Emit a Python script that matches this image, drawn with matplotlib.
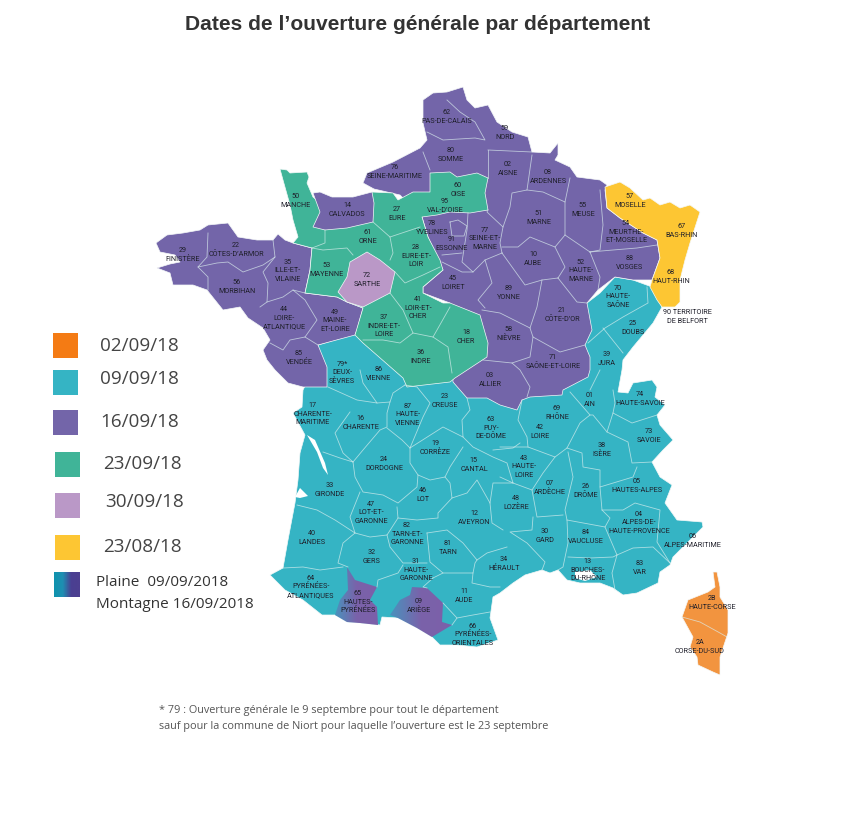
import matplotlib
matplotlib.use('Agg')
import matplotlib.pyplot as plt
from matplotlib.colors import LinearSegmentedColormap
from matplotlib.patches import Polygon
import numpy as np

# couleurs des dates d'ouverture
orange = '#f2943f'
teal = '#35b4c4'
purple = '#7365a9'
green = '#40b498'
mauve = '#ba98c7'
yellow = '#fdc633'

legend_dates = ['02/09/18', '09/09/18', '16/09/18', '23/09/18', '30/09/18', '23/08/18']
legend_colors = ['#f47b14', teal, purple, green, mauve, yellow]
legend_lefts = [53, 53, 53, 55, 55, 55]
legend_tops = [333, 370, 410, 452, 493, 535]
legend_text_x = [100, 100, 100, 103, 105, 103]
legend_text_y = [346, 379, 422, 464, 502, 547]

# contours des zones (coordonnees)
zone_teal = [(303,390),(318,360),(318,345),(358,333),(450,340),(587,303),(600,293),(615,277),(633,280),(652,287),
    (662,307),(653,323),(633,347),(623,360),(622,370),(618,392),(628,393),(633,383),(652,380),(657,387),(655,397),
    (665,405),(657,415),(660,425),(673,440),(663,450),(652,462),(660,477),(672,485),(665,503),(677,520),(702,522),
    (703,527),(690,540),(673,557),(670,565),(660,572),(658,583),(637,593),(623,595),(613,588),(600,583),(580,583),
    (567,580),(558,570),(550,573),(542,570),(525,575),(513,583),(500,593),(493,597),(490,618),(498,640),(477,647),
    (457,645),(440,645),(432,637),(417,628),(398,618),(382,617),(380,625),(360,623),(347,622),(335,615),(322,615),
    (303,600),(285,590),(273,578),(270,575),(283,568),(288,540),(295,503),(298,480),(300,453),(305,435),(293,413),
    (302,407)]
zone_purple_west = [(156,243),(167,235),(183,233),(200,230),(208,225),(228,223),(238,237),(257,240),(273,240),
    (278,234),(285,240),(293,243),(312,248),(310,270),(305,293),(337,297),(347,302),(363,308),(357,330),(355,335),
    (318,345),(327,367),(327,387),(303,387),(288,383),(275,370),(267,360),(263,350),(270,340),(263,328),(248,318),
    (240,307),(223,310),(215,300),(207,290),(193,285),(173,285),(170,273),(157,268),(170,264),(180,262),(175,255),
    (160,252)]
zone_purple_north = [(363,183),(367,173),(393,162),(420,148),(427,140),(423,123),(423,100),(433,93),(447,92),(463,87),
    (467,100),(475,108),(488,105),(497,122),(512,132),(528,137),(532,152),(550,153),(558,143),(558,155),(555,160),
    (570,167),(577,177),(600,180),(607,185),(605,190),(607,208),(620,218),(643,233),(657,240),(660,258),(652,280),
    (633,280),(615,277),(598,290),(587,303),(592,330),(585,345),(590,357),(590,370),(588,377),(563,390),(562,395),
    (530,397),(522,400),(517,410),(500,405),(487,398),(467,398),(453,382),(450,303),(423,293),(423,287),(443,270),
    (428,237),(422,217),(400,195),(374,189)]
zone_green = [(280,169),(287,170),(290,173),(307,172),(309,177),(307,183),(313,197),(325,207),(365,207),(372,192),
    (393,193),(398,200),(413,192),(430,192),(430,173),(450,172),(457,177),(477,173),(488,178),(485,193),(488,210),
    (470,213),(450,212),(437,215),(422,217),(428,237),(440,260),(443,270),(423,287),(423,293),(443,303),(450,303),
    (480,315),(488,343),(487,357),(455,378),(450,382),(407,387),(403,378),(363,343),(355,335),(363,308),(347,302),
    (337,297),(305,293),(310,270),(312,248),(293,243),(298,237),(293,220),(290,205),(283,180)]
zone_calvados = [(313,193),(320,192),(332,197),(353,197),(372,192),(374,203),(373,222),(347,228),(325,230),(313,227),(320,212)]
zone_sarthe = [(367,252),(380,260),(395,272),(390,293),(363,307),(347,302),(338,292),(347,277),(350,262)]
zone_yellow = [(605,187),(620,182),(630,188),(643,200),(650,198),(660,205),(670,202),(680,208),(690,205),(700,212),
    (690,243),(685,260),(680,280),(680,302),(675,307),(662,307),(657,300),(650,287),(652,280),(660,258),(657,240),
    (643,233),(620,218),(607,208)]
zone_hp = [(347,567),(355,580),(377,587),(370,600),(377,607),(378,625),(360,623),(347,622),(335,615),(340,600),(348,590)]
zone_ariege = [(412,587),(427,588),(443,603),(442,622),(452,625),(432,637),(417,628),(398,618),(390,615),(400,600),(410,595)]
zone_corse = [(713,572),(717,572),(720,587),(720,597),(728,610),(728,633),(720,657),(720,675),(713,672),(698,665),
    (697,657),(690,647),(693,637),(682,617),(688,600),(708,592),(715,587)]
water = [
    [(307,435),(315,440),(325,463),(328,475),(323,468),(317,452)],
    [(295,497),(300,488),(308,496),(300,498)],
    [(575,572),(590,570),(597,577),(585,581),(575,578)],
]

# limites de departements
borders = [
    [(208,233),(207,257),(198,267),(208,277),(208,290)],
    [(198,267),(217,263),(228,262),(243,272),(263,265),(275,257),(273,240)],
    [(275,257),(263,272),(268,283),(267,302),(260,307)],
    [(267,302),(283,297),(293,290),(305,293)],
    [(293,290),(305,300),(317,320),(305,337),(290,340),(283,350),(270,343)],
    [(305,337),(318,345)],
    [(312,248),(323,250),(347,248),(353,255)],
    [(325,230),(325,243),(312,248)],
    [(373,222),(390,237),(393,253),(390,260)],
    [(390,237),(420,227)],
    [(395,272),(405,283),(423,275),(440,267)],
    [(390,293),(403,310),(413,333),(400,343),(383,340),(363,340)],
    [(413,333),(433,337),(448,347),(452,373)],
    [(433,337),(437,330),(450,307)],
    [(447,100),(460,112),(475,122),(485,140),(475,138),(443,140),(427,132)],
    [(423,152),(430,170)],
    [(488,150),(488,178)],
    [(488,150),(532,152)],
    [(532,155),(527,190),(512,193),(510,207),(503,227),(487,212),(488,210)],
    [(468,213),(467,230),(462,262),(473,272),(485,260),(502,253)],
    [(503,227),(500,243),(502,253)],
    [(502,247),(518,247),(530,237),(545,243),(555,247),(565,235)],
    [(527,190),(543,192),(565,202),(570,178)],
    [(565,202),(565,235),(590,252)],
    [(600,190),(603,225),(600,250),(590,252)],
    [(590,252),(613,250),(637,248),(657,245)],
    [(590,252),(600,277),(598,290)],
    [(555,247),(565,267),(558,278)],
    [(502,253),(525,285),(542,280),(558,278)],
    [(558,278),(577,302),(587,303)],
    [(485,260),(492,283),(478,300),(485,308)],
    [(442,262),(462,272),(473,272)],
    [(442,255),(462,253)],
    [(450,222),(458,220),(467,226),(464,236),(452,236),(450,222)],
    [(482,310),(500,313),(530,328)],
    [(542,280),(537,307),(530,328),(533,337),(560,352),(585,345)],
    [(533,337),(530,357),(512,363),(483,360)],
    [(512,363),(520,370),(530,387),(527,397)],
    [(647,287),(648,303),(623,317),(605,328),(588,343)],
    [(603,328),(623,353)],
    [(328,387),(357,400),(377,403),(390,402),(393,393),(405,385)],
    [(360,370),(363,383),(377,403)],
    [(350,412),(335,433),(343,453),(353,462)],
    [(323,452),(340,458),(353,462),(363,450),(380,430),(387,427),(387,413),(390,402)],
    [(405,385),(417,387),(430,403),(423,417),(410,448)],
    [(387,428),(402,440),(410,448),(443,427),(463,437)],
    [(467,398),(470,410),(462,420),(463,437),(473,447),(493,457),(507,463),(513,483)],
    [(493,450),(513,448),(520,443)],
    [(463,447),(450,467),(445,477),(430,480),(418,475),(410,463),(410,448)],
    [(418,475),(417,487),(398,503),(383,495),(363,492),(355,477),(353,462)],
    [(360,492),(350,517),(355,533),(335,520),(317,510),(297,505)],
    [(355,533),(343,543),(338,563),(348,567)],
    [(283,568),(303,567),(320,570),(343,567)],
    [(355,533),(370,537),(387,535),(398,518),(397,507)],
    [(398,518),(417,520),(438,518),(438,513),(452,498),(450,483),(445,477)],
    [(452,498),(467,493),(477,480),(490,503),(492,523),(503,530)],
    [(490,503),(493,483),(513,483)],
    [(427,533),(447,530),(463,543),(477,560),(487,553),(507,547)],
    [(427,533),(430,562),(443,573),(433,578)],
    [(387,535),(390,547),(403,563),(427,563)],
    [(403,565),(398,573),(378,580),(377,587)],
    [(433,578),(423,587),(427,588)],
    [(443,573),(473,573),(475,563),(477,560)],
    [(473,573),(472,583),(490,587),(500,587)],
    [(457,618),(473,615),(490,612)],
    [(443,603),(457,618),(452,625)],
    [(522,400),(518,420),(527,437),(528,447)],
    [(500,447),(528,447),(555,457),(567,448),(580,423),(590,415),(570,392)],
    [(590,415),(593,415),(607,432),(613,413),(615,403),(613,390)],
    [(590,390),(600,370)],
    [(613,413),(632,423),(657,415)],
    [(607,432),(628,442),(632,463),(652,462)],
    [(567,448),(582,453),(583,467),(600,470),(600,487),(633,477),(637,467)],
    [(568,452),(573,477),(565,510),(567,520),(568,543),(563,567),(558,570)],
    [(555,457),(543,473),(532,490),(537,517),(563,515)],
    [(533,517),(532,530),(510,532),(527,543),(545,562),(542,570)],
    [(532,490),(513,483),(500,477)],
    [(567,520),(605,527),(610,518),(602,510),(600,487)],
    [(568,557),(590,558),(613,557),(617,555)],
    [(605,527),(617,555),(612,573),(615,590)],
    [(617,555),(633,548),(653,547),(670,563)],
    [(602,510),(623,510),(635,503),(660,510),(657,542),(670,563)],
    [(682,617),(700,622),(720,633),(727,637)],
]

# etiquettes des departements
dept_labels = ['62\nPAS-DE-CALAIS', '59\nNORD', '80\nSOMME', '02\nAISNE', '08\nARDENNES', '76\nSEINE-MARITIME',
    '60\nOISE', '95\nVAL-D\u2019OISE', '50\nMANCHE', '14\nCALVADOS', '27\nEURE', '78\nYVELINES', '91\nESSONNE',
    '77\nSEINE-ET-\nMARNE', '61\nORNE', '28\nEURE-ET-\nLOIR', '22\nC\u00d4TES-D\u2019ARMOR', '29\nFINIST\u00c8RE',
    '35\nILLE-ET-\nVILAINE', '53\nMAYENNE', '56\nMORBIHAN', '72\nSARTHE', '44\nLOIRE-\nATLANTIQUE',
    '49\nMAINE-\nET-LOIRE', '37\nINDRE-ET-\nLOIRE', '41\nLOIR-ET-\nCHER', '36\nINDRE', '18\nCHER', '45\nLOIRET',
    '89\nYONNE', '10\nAUBE', '51\nMARNE', '55\nMEUSE', '52\nHAUTE-\nMARNE', '57\nMOSELLE', '54\nMEURTHE-\nET-MOSELLE',
    '88\nVOSGES', '67\nBAS-RHIN', '68\nHAUT-RHIN', '70\nHAUTE-\nSA\u00d4NE', '90 TERRITOIRE\nDE BELFORT', '25\nDOUBS',
    '21\nC\u00d4TE-D\u2019OR', '58\nNI\u00c8VRE', '71\nSA\u00d4NE-ET-LOIRE', '39\nJURA', '03\nALLIER',
    '79*\nDEUX-\nS\u00c8VRES', '86\nVIENNE', '85\nVEND\u00c9E', '17\nCHARENTE-\nMARITIME', '16\nCHARENTE',
    '87\nHAUTE-\nVIENNE', '23\nCREUSE', '63\nPUY-\nDE-D\u00d4ME', '19\nCORR\u00c8ZE', '24\nDORDOGNE', '15\nCANTAL',
    '43\nHAUTE-\nLOIRE', '48\nLOZ\u00c8RE', '12\nAVEYRON', '46\nLOT', '33\nGIRONDE', '47\nLOT-ET-\nGARONNE',
    '82\nTARN-ET-\nGARONNE', '81\nTARN', '40\nLANDES', '32\nGERS', '31\nHAUTE-\nGARONNE', '34\nH\u00c9RAULT',
    '64\nPYR\u00c9N\u00c9ES-\nATLANTIQUES', '65\nHAUTES-\nPYR\u00c9N\u00c9ES', '09\nARI\u00c8GE', '11\nAUDE',
    '66\nPYR\u00c9N\u00c9ES-\nORIENTALES', '01\nAIN', '69\nRH\u00d4NE', '42\nLOIRE', '74\nHAUTE-SAVOIE', '73\nSAVOIE',
    '38\nIS\u00c8RE', '07\nARD\u00c8CHE', '26\nDR\u00d4ME', '05\nHAUTES-ALPES', '04\nALPES-DE-\nHAUTE-PROVENCE',
    '06\nALPES-MARITIME', '30\nGARD', '84\nVAUCLUSE', '13\nBOUCHES-\nDU-RH\u00d4NE', '83\nVAR', '2B\nHAUTE-CORSE',
    '2A\nCORSE-DU-SUD']
dept_x = [447,505,451,508,548,395,458,445,296,347,397,432,452,485,368,416,236,183,288,327,237,367,284,335,384,418,421,
    466,453,509,533,539,583,581,630,626,630,682,671,618,687,633,562,509,553,607,490,342,379,299,313,361,408,445,491,435,
    384,474,524,516,474,423,330,371,407,448,312,372,416,504,311,358,419,464,473,590,557,540,640,649,602,550,586,637,639,
    693,545,586,588,640,712,700]
dept_y = [117,133,155,169,177,172,190,206,201,210,214,228,244,239,237,256,250,255,271,270,287,280,318,321,326,308,357,
    337,283,293,259,218,210,271,201,232,263,231,277,297,317,328,315,334,362,359,380,373,374,358,414,423,415,401,428,448,
    464,465,467,503,518,495,490,513,534,548,538,557,570,564,587,602,606,596,635,400,413,432,399,436,450,488,491,486,523,
    541,536,537,570,568,603,647]

fig = plt.figure(figsize=(8.53, 8.27), dpi=100)
ax = fig.add_axes([0, 0, 1, 1])
ax.set_xlim(0, 853)
ax.set_ylim(827, 0)
ax.axis('off')

for pts, col in [(zone_teal, teal), (zone_purple_west, purple), (zone_purple_north, purple), (zone_green, green),
                 (zone_calvados, purple), (zone_sarthe, mauve), (zone_yellow, yellow), (zone_corse, orange)]:
    ax.add_patch(Polygon(pts, closed=True, facecolor=col, edgecolor='#f4f8f8', linewidth=0.5, joinstyle='round', zorder=2))

for pts in water:
    ax.add_patch(Polygon(pts, closed=True, facecolor='white', edgecolor='none', zorder=3))

# Hautes-Pyrenees et Ariege : plaine -> montagne
cmap_mixte = LinearSegmentedColormap.from_list('mixte', ['#4a92bd', '#7a62aa', '#7c60a9'])
ramp = np.linspace(0, 1, 64).reshape(1, -1)
for pts in [zone_hp, zone_ariege]:
    arr = np.array(pts)
    clip = Polygon(pts, closed=True, transform=ax.transData, facecolor='none', edgecolor='none')
    ax.add_patch(clip)
    im = ax.imshow(ramp, cmap=cmap_mixte, aspect='auto', zorder=3,
                   extent=(arr[:, 0].min(), arr[:, 0].max(), arr[:, 1].max(), arr[:, 1].min()))
    im.set_clip_path(clip)
ax.set_xlim(0, 853)
ax.set_ylim(827, 0)

for line in borders:
    arr = np.array(line)
    ax.plot(arr[:, 0], arr[:, 1], color='#dcefef', lw=0.6, alpha=0.7, solid_joinstyle='round', zorder=4)

for label, x, y in zip(dept_labels, dept_x, dept_y):
    ax.text(x, y, label, fontsize=5.2, family='Roboto', color='#1f1f2a',
            ha='center', va='center', linespacing=1.35, zorder=5)

# legende
for date, col, left, top, tx, ty in zip(legend_dates, legend_colors, legend_lefts, legend_tops, legend_text_x, legend_text_y):
    ax.fill_between([left, left + 25], top, top + 25, color=col, lw=0)
    ax.text(tx, ty, date, fontsize=13.6, family='Open Sans', color='#444444', ha='left', va='center')

cmap_leg = LinearSegmentedColormap.from_list('leg', ['#0f93ae', '#1f8fb2', '#4a3f92', '#4d3f90'])
ax.imshow(np.linspace(0, 1, 32).reshape(1, -1), cmap=cmap_leg, aspect='auto', extent=(54, 80, 597, 572), zorder=2)
ax.set_xlim(0, 853)
ax.set_ylim(827, 0)
ax.text(96, 582, 'Plaine  09/09/2018', fontsize=11, family='Open Sans', color='#333333', va='center')
ax.text(96, 604, 'Montagne 16/09/2018', fontsize=11, family='Open Sans', color='#333333', va='center')

ax.text(418, 24, 'Dates de l\u2019ouverture g\u00e9n\u00e9rale par d\u00e9partement', fontsize=15.1,
        family='Liberation Sans', weight='bold', color='#333333', ha='center', va='center')

ax.text(159, 710, '* 79 : Ouverture g\u00e9n\u00e9rale le 9 septembre pour tout le d\u00e9partement', fontsize=7.8,
        family='Open Sans', color='#555555', va='center')
ax.text(159, 727, 'sauf pour la commune de Niort pour laquelle l\u2019ouverture est le 23 septembre', fontsize=7.8,
        family='Open Sans', color='#555555', va='center')

fig.savefig('out.png', dpi=100)
plt.close(fig)
